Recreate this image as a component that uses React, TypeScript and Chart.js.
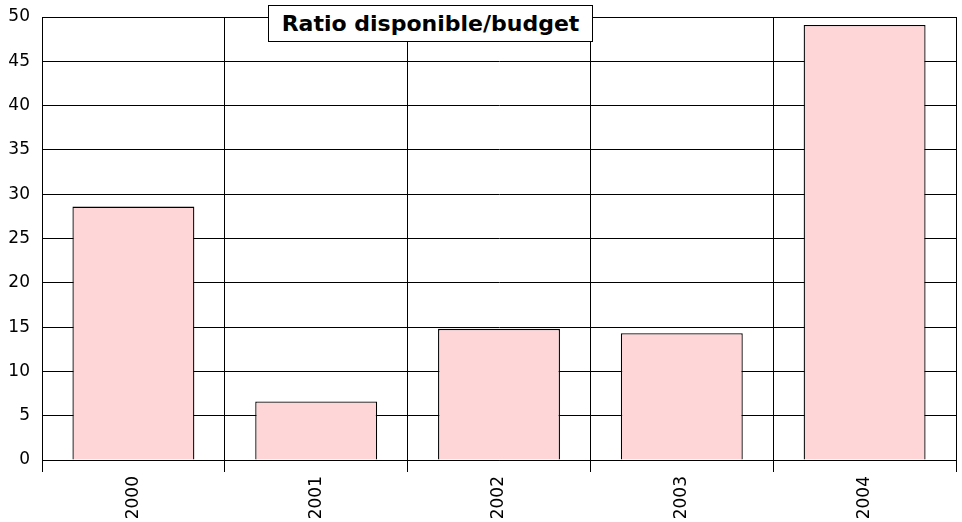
import React, { useEffect, useRef } from "react";
import { Chart, registerables } from "chart.js";

Chart.register(...registerables);

const categories = ["2000", "2001", "2002", "2003", "2004"];
const ratioValues = [28.6, 6.6, 14.8, 14.3, 49.1];
const yTicks = [0, 5, 10, 15, 20, 25, 30, 35, 40, 45, 50];
const chartTitle = "Ratio disponible/budget";

export default function App() {
  const canvasRef = useRef<HTMLCanvasElement | null>(null);

  useEffect(() => {
    const canvas = canvasRef.current;
    if (!canvas) return;
    const chart = new Chart(canvas, {
      type: "bar",
      data: {
        labels: categories,
        datasets: [
          {
            data: ratioValues,
            backgroundColor: "#FFD6D8",
            borderColor: "#000000",
            borderWidth: 1.3,
            barPercentage: 0.667,
            categoryPercentage: 1,
          },
        ],
      },
      options: {
        animation: false,
        responsive: false,
        devicePixelRatio: 1,
        layout: { padding: { top: 17, right: 6, left: 0, bottom: 0 } },
        plugins: {
          legend: { display: false },
          tooltip: { enabled: false },
          title: { display: false },
        },
        scales: {
          x: {
            offset: true,
            grid: {
              offset: true,
              color: "#000000",
              lineWidth: 1,
              drawTicks: true,
              tickLength: 12,
              tickColor: "#000000",
            },
            border: { display: true, color: "#000000", width: 1 },
            ticks: {
              minRotation: 90,
              maxRotation: 90,
              padding: 4,
              color: "#000000",
              font: { family: "'DejaVu Sans'", size: 17 },
            },
            afterFit: (scale: any) => {
              scale.height = 62;
              scale.paddingLeft = 0;
              scale.paddingRight = 0;
            },
          },
          y: {
            min: 0,
            max: 50,
            afterBuildTicks: (scale: any) => {
              scale.ticks = yTicks.map((v) => ({ value: v }));
            },
            grid: {
              color: "#000000",
              lineWidth: 1,
              drawTicks: false,
            },
            border: { display: true, color: "#000000", width: 1 },
            ticks: {
              padding: 12,
              color: "#000000",
              font: { family: "'DejaVu Sans'", size: 17 },
            },
            afterFit: (scale: any) => {
              scale.width = 42;
              scale.paddingTop = 0;
              scale.paddingBottom = 0;
            },
          },
        },
      },
    });
    return () => chart.destroy();
  }, []);

  return (
    <div
      style={{
        position: "fixed",
        left: 0,
        top: 0,
        width: 962,
        height: 522,
        background: "#ffffff",
      }}
    >
      <canvas
        ref={canvasRef}
        width={962}
        height={522}
        style={{ display: "block", width: 962, height: 522 }}
      />
      <div
        style={{
          position: "absolute",
          left: 268,
          top: 5,
          width: 325,
          height: 37,
          boxSizing: "border-box",
          border: "1px solid #000000",
          background: "#ffffff",
          fontFamily: "'DejaVu Sans', sans-serif",
          fontWeight: "bold",
          fontSize: 22,
          lineHeight: "35px",
          textAlign: "center",
          color: "#000000",
          whiteSpace: "nowrap",
        }}
      >
        {chartTitle}
      </div>
    </div>
  );
}
